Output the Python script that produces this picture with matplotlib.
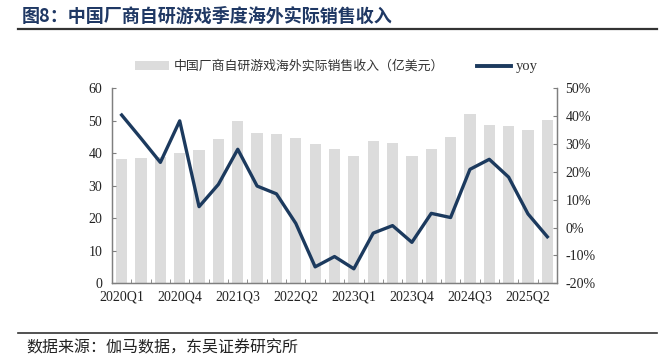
import matplotlib
matplotlib.use("Agg")
import matplotlib.pyplot as plt
from matplotlib.lines import Line2D
from matplotlib.patches import Patch
from matplotlib.ticker import FuncFormatter

plt.rcParams['font.family'] = ['Liberation Serif', 'Noto Sans CJK SC']

# -------------------------------------------------
# Datos
# -------------------------------------------------

quarters = ["2020Q1", "2020Q2", "2020Q3", "2020Q4",
            "2021Q1", "2021Q2", "2021Q3", "2021Q4",
            "2022Q1", "2022Q2", "2022Q3", "2022Q4",
            "2023Q1", "2023Q2", "2023Q3", "2023Q4",
            "2024Q1", "2024Q2", "2024Q3", "2024Q4",
            "2025Q1", "2025Q2", "2025Q3"]

revenue = [38.2, 38.5, 38.9, 40.2, 41.0, 44.3, 49.9, 46.2, 45.8, 44.6, 43.0, 41.3,
           39.2, 43.7, 43.1, 39.2, 41.2, 45.1, 52.1, 48.6, 48.3, 47.3, 50.3]

yoy = [40.4, 32.0, 23.4, 38.3, 7.5, 15.5, 28.1, 14.9, 12.1, 1.5, -14.1, -10.4,
       -14.8, -2.0, 0.7, -5.3, 5.1, 3.6, 20.9, 24.5, 18.1, 4.9, -3.3]

bar_label = "中国厂商自研游戏海外实际销售收入（亿美元）"
line_label = "yoy"
title = "图8：中国厂商自研游戏季度海外实际销售收入"
source = "数据来源：伽马数据，东吴证券研究所"

bar_color = "#dcdcdc"
line_color = "#1c3a5e"
title_color = "#1f3864"
axis_color = "#7f7f7f"

# -------------------------------------------------
# Figura
# -------------------------------------------------

fig = plt.figure(figsize=(6.69, 3.60), dpi=100)
ax = fig.add_axes([0.1674, 0.2131, 0.6652, 0.5417])
ax2 = ax.twinx()

x = list(range(len(quarters)))

ax.bar(x, revenue, width=0.58, color=bar_color, zorder=1)
ax2.plot(x, yoy, color=line_color, linewidth=2.4, zorder=3)

ax.set_xlim(-0.5, len(quarters) - 0.5)
ax.set_ylim(0, 60)
ax.set_yticks(range(0, 61, 10))
ax2.set_ylim(-20, 50)
ax2.set_yticks(range(-20, 51, 10))
ax2.yaxis.set_major_formatter(FuncFormatter(lambda v, p: f"{int(v)}%"))

ax.set_xticks(x[::3])
ax.set_xticklabels(quarters[::3])
ax.set_xticks([i - 0.5 for i in range(len(quarters) + 1)], minor=True)

for a in (ax, ax2):
    a.spines['top'].set_visible(False)
    for s in ('left', 'right', 'bottom'):
        a.spines[s].set_color(axis_color)
        a.spines[s].set_linewidth(0.9)

ax.tick_params(axis='x', which='major', length=0, pad=5, labelsize=10)
ax.tick_params(axis='x', which='minor', direction='in', length=3, color=axis_color)
ax.tick_params(axis='y', direction='in', length=3, color=axis_color, labelsize=10, pad=7)
ax2.tick_params(axis='y', direction='in', length=3, color=axis_color, labelsize=10, pad=6)

for lab in ax.get_xticklabels() + ax.get_yticklabels() + ax2.get_yticklabels():
    lab.set_color("#222222")

# -------------------------------------------------
# Leyenda
# -------------------------------------------------

handles = [Patch(facecolor=bar_color, edgecolor='none'),
           Line2D([0], [0], color=line_color, linewidth=2.8)]
leg = fig.legend(handles, [bar_label, line_label], loc='center left',
                 bbox_to_anchor=(0.185, 0.815), ncol=2, frameon=False,
                 handlelength=2.6, handletextpad=0.35, columnspacing=2.6,
                 prop={'family': ['Noto Sans CJK SC', 'Liberation Serif'], 'size': 9.3})
leg.get_texts()[1].set_fontfamily('Liberation Serif')
leg.get_texts()[1].set_fontsize(10.5)
for t in leg.get_texts():
    t.set_color("#333333")

# -------------------------------------------------
# Título y fuente
# -------------------------------------------------

fig.text(0.033, 0.955, title, fontsize=13, fontweight='bold', color=title_color,
         family=['Noto Sans CJK SC', 'DejaVu Sans'], va='center', ha='left')
fig.add_artist(Line2D([0.027, 0.982], [0.92, 0.92], color='#333333', linewidth=1.6))
fig.add_artist(Line2D([0.027, 0.982], [0.075, 0.075], color='#333333', linewidth=1.2))
fig.text(0.04, 0.033, source, fontsize=11.5, color='#222222',
         family=['Noto Sans CJK SC', 'DejaVu Sans'], va='center', ha='left')

plt.savefig("out.png", dpi=100)
